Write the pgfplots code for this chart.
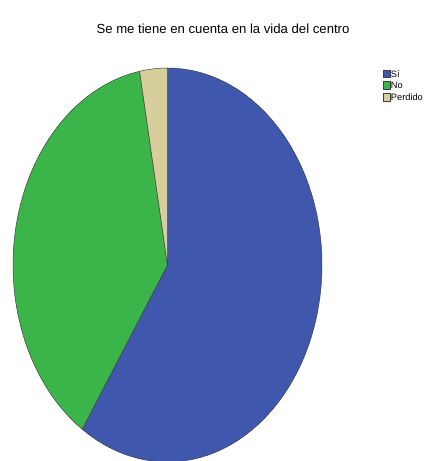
\documentclass[border=0pt]{standalone}
\usepackage{fontspec}
\setmainfont{Liberation Sans}
\usepackage{pgfplots}
\pgfplotsset{compat=1.18}
\definecolor{siblue}{HTML}{3F57AD}
\definecolor{nogreen}{HTML}{3BB54A}
\definecolor{pertan}{HTML}{D6CE9B}
% Shares (percent): Si 59.3, No 37.8, Perdido 2.9
% cumulative angles (deg, clockwise from top): 0, 213.5, 349.6, 360
\begin{document}
\begin{tikzpicture}
\begin{axis}[
  scale only axis, width=424bp, height=461bp,
  xmin=0, xmax=424, ymin=0, ymax=461, y dir=reverse,
  hide axis, clip=true,
  legend cell align=left,
  legend image code/.code={\draw[#1] (0pt,-3.9pt) rectangle (6.5pt,3.9pt);},
  legend style={at={(383/424,1-69.5/461)}, anchor=north west, draw=none, fill=none,
    font=\fontsize{9.3}{10}\selectfont, inner sep=0pt, row sep=3.4pt,
    /tikz/every even column/.append style={column sep=0pt},
    nodes={inner xsep=0.8pt, inner ysep=0pt, text height=6.8pt, text depth=0pt}},
]
\addplot[fill=siblue, draw=black!75, line width=0.5pt, variable=\t,
  samples at={-1,0,3,...,210,213.5}]
  ({\t<0 ? 167.5 : 167.5+154.5*sin(\t)}, {\t<0 ? 265 : 265-197*cos(\t)}) -- cycle;
\addplot[fill=nogreen, draw=black!75, line width=0.5pt, variable=\t,
  samples at={-1,213.5,216,...,348,349.6}]
  ({\t<0 ? 167.5 : 167.5+154.5*sin(\t)}, {\t<0 ? 265 : 265-197*cos(\t)}) -- cycle;
\addplot[fill=pertan, draw=black!75, line width=0.5pt, variable=\t,
  samples at={-1,349.6,352,355,358,360}]
  ({\t<0 ? 167.5 : 167.5+154.5*sin(\t)}, {\t<0 ? 265 : 265-197*cos(\t)}) -- cycle;
\legend{Sí,No,Perdido}
\node[font=\fontsize{13.2}{15}\selectfont, anchor=base] at (axis cs:223,33.3) {Se me tiene en cuenta en la vida del centro};
\end{axis}
\path (current axis.south west) rectangle (current axis.north east);
\end{tikzpicture}
\end{document}
